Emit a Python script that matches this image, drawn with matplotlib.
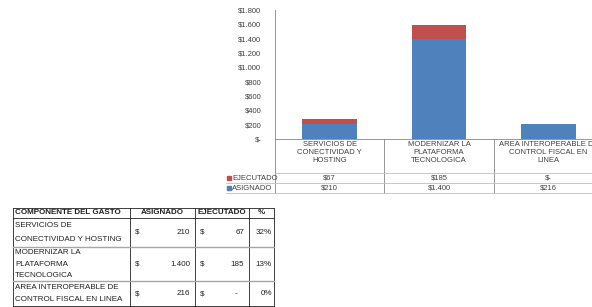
import matplotlib.pyplot as plt
from matplotlib.lines import Line2D

categorias = ["SERVICIOS DE\nCONECTIVIDAD Y\nHOSTING",
              "MODERNIZAR LA\nPLATAFORMA\nTECNOLOGICA",
              "AREA INTEROPERABLE DE\nCONTROL FISCAL EN\nLINEA"]
asignado = [210, 1400, 216]
ejecutado = [67, 185, 0]
yticks = [0, 200, 400, 600, 800, 1000, 1200, 1400, 1600, 1800]

# tabla inferior
componentes = ["SERVICIOS DE\nCONECTIVIDAD Y HOSTING",
               "MODERNIZAR LA\nPLATAFORMA\nTECNOLOGICA",
               "AREA INTEROPERABLE DE\nCONTROL FISCAL EN LINEA"]
porcentajes = ["32%", "13%", "0%"]

AZUL = "#4F81BD"
ROJO = "#C0504D"
GRIS = "#868686"
TXT = "#404040"
NEG = "#202020"
FS = 5.5     # texto del grafico
FT = 5.8     # texto de la tabla
plt.rcParams['font.family'] = ['Liberation Sans', 'DejaVu Sans']


def pesos(v):
    if v == 0:
        return "$-"
    return "$" + f"{v:,}".replace(",", ".")


W, H = 592, 307
fig = plt.figure(figsize=(W / 100, H / 100), dpi=100)

# ---- grafico de barras
x0, x1, ytop, ybot = 275, 603, 10, 139
ax = fig.add_axes([x0 / W, 1 - ybot / H, (x1 - x0) / W, (ybot - ytop) / H])
x = range(len(categorias))
ax.bar(x, asignado, width=0.5, color=AZUL)
ax.bar(x, ejecutado, width=0.5, bottom=asignado, color=ROJO)
ax.set_xlim(-0.5, 2.5)
ax.set_ylim(0, 1800)
ax.set_yticks(yticks)
ax.set_yticklabels([pesos(v) for v in yticks], fontsize=FS, color=TXT)
ax.set_xticks([])
ax.tick_params(axis='y', length=0, pad=10)
for s in ['top', 'right']:
    ax.spines[s].set_visible(False)
for s in ['left', 'bottom']:
    ax.spines[s].set_color(GRIS)
    ax.spines[s].set_linewidth(0.6)

# ---- capa de dibujo en pixeles para las tablas
ov = fig.add_axes([0, 0, 1, 1])
ov.set_xlim(0, W)
ov.set_ylim(H, 0)
ov.axis('off')


def linea(xa, ya, xb, yb, c="#BFBFBF", lw=0.6):
    ov.add_line(Line2D([xa, xb], [ya, yb], color=c, lw=lw))


# tabla de datos bajo el grafico
col_w = (x1 - x0) / 3
for i in range(4):
    linea(x0 + i * col_w, ybot, x0 + i * col_w, 193, c=GRIS)
linea(x0, 173, W, 173)
linea(226, 183, W, 183)
linea(226, 193, W, 193)
for i, cat in enumerate(categorias):
    cx = x0 + (i + 0.5) * col_w
    ov.text(cx, 141.5, cat, ha='center', va='top', fontsize=FS, color=TXT,
            linespacing=1.15)
    ov.text(cx, 178, pesos(ejecutado[i]), ha='center', va='center',
            fontsize=FS, color=TXT)
    ov.text(cx, 188, pesos(asignado[i]), ha='center', va='center',
            fontsize=FS, color=TXT)
ov.plot([229], [178], 's', ms=2.2, color=ROJO)
ov.plot([229], [188], 's', ms=2.2, color=AZUL)
ov.text(232, 178, "EJECUTADO", ha='left', va='center', fontsize=FS, color=TXT)
ov.text(232, 188, "ASIGNADO", ha='left', va='center', fontsize=FS, color=TXT)

# tabla resumen
cols = [13, 130, 195, 249, 274]
rows = [208, 218, 247, 281, 306]
for xc in cols:
    linea(xc, rows[0], xc, rows[-1], c=NEG, lw=0.6)
linea(cols[0], rows[0], cols[-1], rows[0], c=NEG)
linea(cols[0], rows[1], cols[-1], rows[1], c=NEG)
linea(cols[0], rows[-1], cols[-1], rows[-1], c=NEG)
for r in rows[2:-1]:
    linea(cols[0], r, cols[-1], r, c="#A6A6A6", lw=1.0)

ov.text(15, 213, "COMPONENTE DEL GASTO", ha='left', va='center',
        fontsize=FT, fontweight='bold', color=NEG)
for i, t in enumerate(["ASIGNADO", "EJECUTADO", "%"]):
    ov.text((cols[i + 1] + cols[i + 2]) / 2, 213, t, ha='center', va='center',
            fontsize=FT, fontweight='bold', color=NEG)

for i, comp in enumerate(componentes):
    ya, yb = rows[i + 1], rows[i + 2]
    ym = (ya + yb) / 2
    partes = comp.split("\n")
    paso = (yb - ya) / len(partes)
    for j, p in enumerate(partes):
        ov.text(15, ya + (j + 0.5) * paso, p, ha='left', va='center',
                fontsize=FT, color=NEG)
    ov.text(cols[1] + 5, ym, "$", ha='left', va='center', fontsize=FT,
            color=NEG)
    ov.text(cols[2] - 5, ym, f"{asignado[i]:,}".replace(",", "."),
            ha='right', va='center', fontsize=FT, color=NEG)
    ov.text(cols[2] + 5, ym, "$", ha='left', va='center', fontsize=FT,
            color=NEG)
    ej = f"{ejecutado[i]:,}" if ejecutado[i] else "-   "
    ov.text(cols[3] - 5, ym, ej, ha='right', va='center', fontsize=FT,
            color=NEG)
    ov.text(cols[4] - 2, ym, porcentajes[i], ha='right', va='center',
            fontsize=FT, color=NEG)

fig.savefig("out.png", dpi=100)
